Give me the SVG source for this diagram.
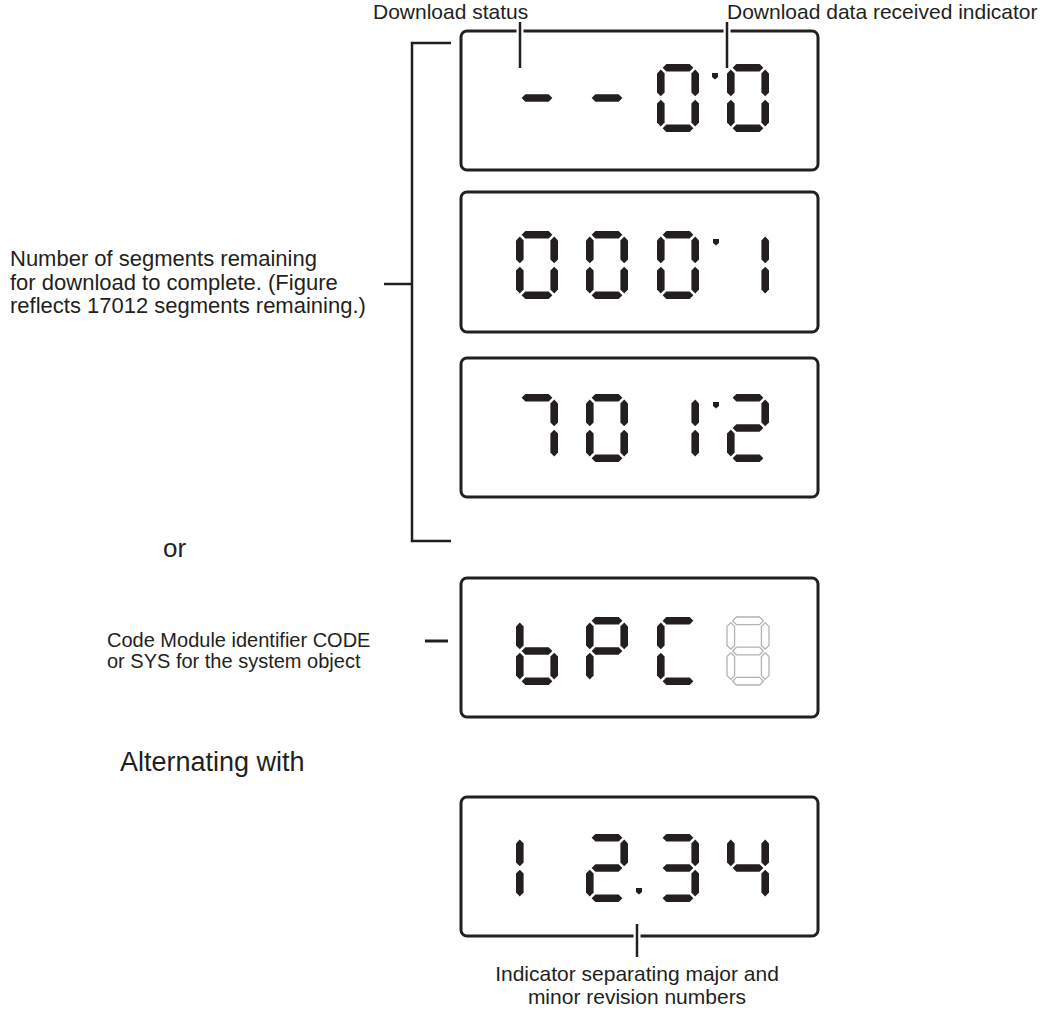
<svg xmlns="http://www.w3.org/2000/svg" width="1044" height="1019" viewBox="0 0 1044 1019">
<style>
.box{fill:#fff;stroke:#231f20;stroke-width:3}
.seg{fill:#231f20}
.off{fill:#fff;stroke:#b3b3b3;stroke-width:1.3}
.lbl{font-family:"Liberation Sans",Arial,sans-serif;fill:#231f20}
.ln{stroke:#231f20;stroke-width:2.5;fill:none}
.halo{stroke:#fff;stroke-width:7;fill:none}
</style>
<defs>
<polygon id="sa" points="5.6,3.8 9.4,0 32.6,0 36.4,3.8 32.6,7.6 9.4,7.6"/>
<polygon id="sg" points="5.6,34 9.4,30.2 32.6,30.2 36.4,34 32.6,37.8 9.4,37.8"/>
<polygon id="sd" points="5.6,64.2 9.4,60.4 32.6,60.4 36.4,64.2 32.6,68 9.4,68"/>
<polygon id="sf" points="3.8,5.6 7.6,9.4 7.6,28.4 3.8,32.2 0,28.4 0,9.4"/>
<polygon id="se" points="3.8,35.8 7.6,39.6 7.6,58.6 3.8,62.4 0,58.6 0,39.6"/>
<polygon id="sb" points="38.2,5.6 42,9.4 42,28.4 38.2,32.2 34.4,28.4 34.4,9.4"/>
<polygon id="sc" points="38.2,35.8 42,39.6 42,58.6 38.2,62.4 34.4,58.6 34.4,39.6"/>
<polygon id="dot" points="-3,-3 3,-3 3,1 0,3.5 -3,1"/>
</defs>

<g id="connectors">
<path class="ln" d="M451,43 H412 V541 H451"/>
<path class="ln" d="M384,284 H412"/>
<path class="ln" d="M425,641 H448" style="stroke-width:3"/>
</g>

<g id="display1">
<rect class="box" x="461" y="31" width="357" height="139" rx="6"/>
<g class="seg" transform="translate(516,64)"><use href="#sg"/></g>
<g class="seg" transform="translate(586,64)"><use href="#sg"/></g>
<g class="seg" transform="translate(657,64)"><use href="#sa"/><use href="#sb"/><use href="#sc"/><use href="#sd"/><use href="#se"/><use href="#sf"/></g>
<g class="seg" transform="translate(727,64)"><use href="#sa"/><use href="#sb"/><use href="#sc"/><use href="#sd"/><use href="#se"/><use href="#sf"/></g>
<use class="seg" href="#dot" transform="translate(715,76)"/>
</g>

<g id="display2">
<rect class="box" x="461" y="192" width="357" height="140" rx="6"/>
<g class="seg" transform="translate(516,231)"><use href="#sa"/><use href="#sb"/><use href="#sc"/><use href="#sd"/><use href="#se"/><use href="#sf"/></g>
<g class="seg" transform="translate(586,231)"><use href="#sa"/><use href="#sb"/><use href="#sc"/><use href="#sd"/><use href="#se"/><use href="#sf"/></g>
<g class="seg" transform="translate(657,231)"><use href="#sa"/><use href="#sb"/><use href="#sc"/><use href="#sd"/><use href="#se"/><use href="#sf"/></g>
<g class="seg" transform="translate(727,231)"><use href="#sb"/><use href="#sc"/></g>
<use class="seg" href="#dot" transform="translate(716,242)"/>
</g>

<g id="display3">
<rect class="box" x="461" y="358" width="357" height="139" rx="6"/>
<g class="seg" transform="translate(516,394)"><use href="#sa"/><use href="#sb"/><use href="#sc"/></g>
<g class="seg" transform="translate(586,394)"><use href="#sa"/><use href="#sb"/><use href="#sc"/><use href="#sd"/><use href="#se"/><use href="#sf"/></g>
<g class="seg" transform="translate(657,394)"><use href="#sb"/><use href="#sc"/></g>
<g class="seg" transform="translate(727,394)"><use href="#sa"/><use href="#sb"/><use href="#sg"/><use href="#se"/><use href="#sd"/></g>
<use class="seg" href="#dot" transform="translate(716,405)"/>
</g>

<g id="display4">
<rect class="box" x="461" y="578" width="357" height="139" rx="6"/>
<g class="seg" transform="translate(516,617)"><use href="#sf"/><use href="#se"/><use href="#sg"/><use href="#sd"/><use href="#sc"/></g>
<g class="seg" transform="translate(586,617)"><use href="#sa"/><use href="#sb"/><use href="#sf"/><use href="#sg"/><use href="#se"/></g>
<g class="seg" transform="translate(657,617)"><use href="#sa"/><use href="#sf"/><use href="#se"/><use href="#sd"/></g>
<g class="off" transform="translate(727,617)"><use href="#sa"/><use href="#sb"/><use href="#sc"/><use href="#sd"/><use href="#se"/><use href="#sf"/><use href="#sg"/></g>
</g>

<g id="display5">
<rect class="box" x="461" y="797" width="357" height="139" rx="6"/>
<g class="seg" transform="translate(516,834)"><use href="#sf"/><use href="#se"/></g>
<g class="seg" transform="translate(586,834)"><use href="#sa"/><use href="#sb"/><use href="#sg"/><use href="#se"/><use href="#sd"/></g>
<g class="seg" transform="translate(657,834)"><use href="#sa"/><use href="#sb"/><use href="#sg"/><use href="#sc"/><use href="#sd"/></g>
<g class="seg" transform="translate(727,834)"><use href="#sf"/><use href="#sg"/><use href="#sb"/><use href="#sc"/></g>
<use class="seg" href="#dot" transform="translate(639,891)"/>
</g>

<g id="leaders">
<path class="halo" d="M520,24 V66"/><path class="ln" d="M520,22 V68"/>
<path class="halo" d="M727,24 V66"/><path class="ln" d="M727,22 V68"/>
<path class="halo" d="M637,926 V950"/><path class="ln" d="M637,924 V957"/>
</g>

<g id="labels">
<text class="lbl" x="373" y="19" font-size="21">Download status</text>
<text class="lbl" x="727" y="19" font-size="21">Download data received indicator</text>
<text class="lbl" font-size="22"><tspan x="10" y="266">Number of segments remaining</tspan><tspan x="10" y="290">for download to complete. (Figure</tspan><tspan x="10" y="313">reflects 17012 segments remaining.)</tspan></text>
<text class="lbl" x="163" y="557" font-size="26">or</text>
<text class="lbl" font-size="20"><tspan x="107" y="647">Code Module identifier CODE</tspan><tspan x="107" y="668">or SYS for the system object</tspan></text>
<text class="lbl" x="120" y="771" font-size="27">Alternating with</text>
<text class="lbl" font-size="21" text-anchor="middle"><tspan x="637" y="981">Indicator separating major and</tspan><tspan x="637" y="1004">minor revision numbers</tspan></text>
</g>
</svg>
